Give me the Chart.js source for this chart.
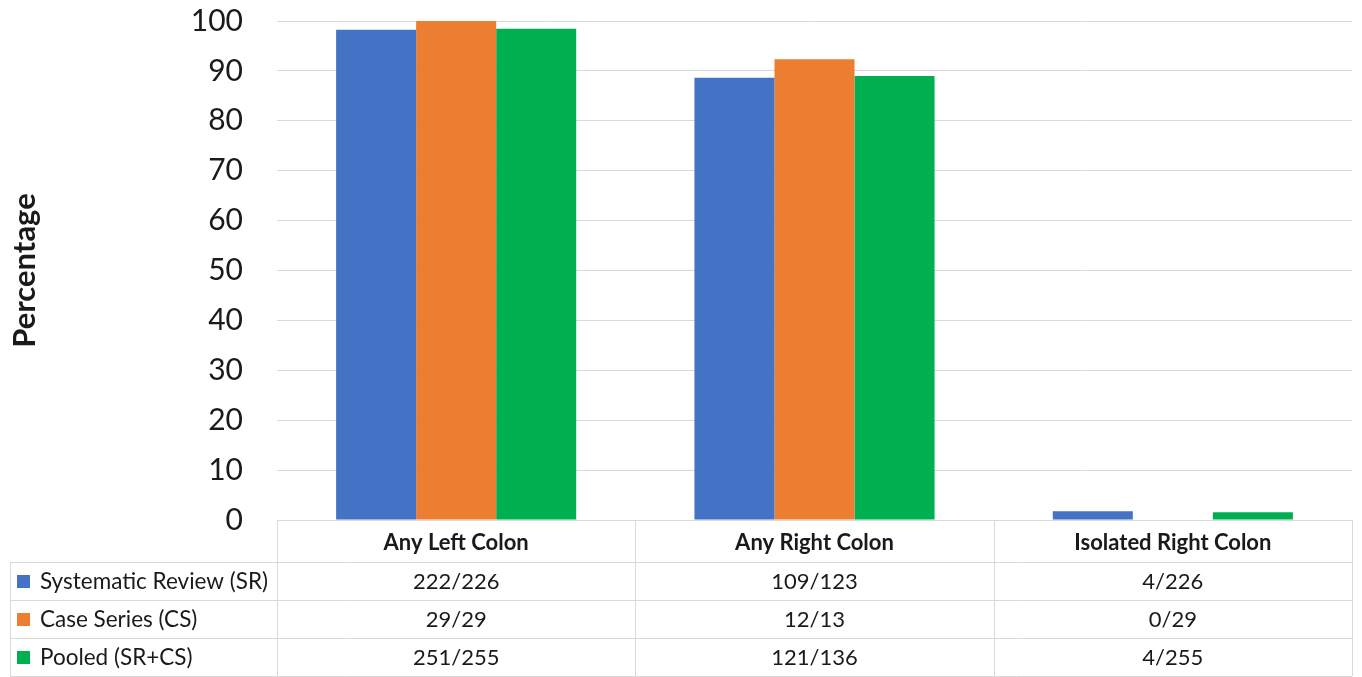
<!DOCTYPE html>
<html>
<head>
<meta charset="utf-8">
<script src="https://cdn.jsdelivr.net/npm/chart.js@4.4.1/dist/chart.umd.min.js"></script>
<style>
  html, body { margin: 0; padding: 0; background: #ffffff; }
  #wrap { width: 1362px; height: 677px; position: relative; }
</style>
</head>
<body>
<div id="wrap"><canvas id="chart" width="1362" height="677"></canvas></div>
<script>
// Site categories (table column headers)
const categories = ['Any Left Colon', 'Any Right Colon', 'Isolated Right Colon'];

// Series names and percentages
const seriesNames = ['Systematic Review (SR)', 'Case Series (CS)', 'Pooled (SR+CS)'];
const srValues = [98.23, 88.62, 1.77];
const csValues = [100, 92.31, 0];
const pooledValues = [98.43, 88.97, 1.57];

// Counts shown in the data table
const srCounts = ['222/226', '109/123', '4/226'];
const csCounts = ['29/29', '12/13', '0/29'];
const pooledCounts = ['251/255', '121/136', '4/255'];

// Y axis ticks
const yTicks = [0, 10, 20, 30, 40, 50, 60, 70, 80, 90, 100];

const colors = ['#4472C4', '#ED7D31', '#00B050'];
const FONT = 'Lato, "Open Sans", sans-serif';
const TEXT = '#1a1a1a';
const LINE = '#d9d9d9';

// Data table drawn under the plot area, aligned with the category scale
const dataTable = {
  id: 'dataTable',
  afterDraw(chart) {
    const ctx = chart.ctx;
    const area = chart.chartArea;
    const x = chart.scales.x;
    const tableLeft = 10;
    const top = area.bottom;
    const headerH = 42;
    const rowH = 38;
    const rows = [srCounts, csCounts, pooledCounts];
    const bottom = top + headerH + rowH * rows.length;

    // column edges from the category scale
    const half = (x.getPixelForValue(1) - x.getPixelForValue(0)) / 2;
    const edges = [];
    for (let i = 0; i < categories.length; i++) edges.push(x.getPixelForValue(i) - half);
    edges.push(x.getPixelForValue(categories.length - 1) + half);

    ctx.save();
    ctx.strokeStyle = LINE;
    ctx.lineWidth = 1;
    ctx.beginPath();
    ctx.moveTo(area.left, top + 0.5);
    ctx.lineTo(area.right, top + 0.5);
    for (let r = 0; r <= rows.length; r++) {
      const y = Math.round(top + headerH + rowH * r) + 0.5;
      ctx.moveTo(tableLeft, y);
      ctx.lineTo(area.right, y);
    }
    edges.forEach(e => {
      ctx.moveTo(Math.round(e) + 0.5, top);
      ctx.lineTo(Math.round(e) + 0.5, bottom);
    });
    ctx.moveTo(tableLeft + 0.5, top + headerH);
    ctx.lineTo(tableLeft + 0.5, bottom);
    ctx.stroke();

    // header labels
    ctx.fillStyle = TEXT;
    ctx.textAlign = 'center';
    ctx.textBaseline = 'middle';
    ctx.font = 'bold 22px ' + FONT;
    categories.forEach((c, i) => {
      ctx.fillText(c, x.getPixelForValue(i), top + headerH / 2 + 2);
    });

    // series rows
    rows.forEach((row, r) => {
      const cy = top + headerH + rowH * r + rowH / 2 + 1;
      ctx.fillStyle = colors[r];
      ctx.fillRect(17, Math.round(cy - 7), 13, 13);
      ctx.fillStyle = TEXT;
      ctx.textAlign = 'left';
      ctx.font = '22.5px ' + FONT;
      ctx.fillText(seriesNames[r], 40, cy);
      ctx.textAlign = 'center';
      ctx.font = '22px ' + FONT;
      row.forEach((v, i) => ctx.fillText(v, x.getPixelForValue(i), cy));
    });
    ctx.restore();
  }
};

new Chart(document.getElementById('chart'), {
  type: 'bar',
  data: {
    labels: categories,
    datasets: [
      { label: seriesNames[0], data: srValues, backgroundColor: colors[0] },
      { label: seriesNames[1], data: csValues, backgroundColor: colors[1] },
      { label: seriesNames[2], data: pooledValues, backgroundColor: colors[2] }
    ]
  },
  options: {
    responsive: false,
    animation: false,
    layout: { padding: { top: 21, right: 10, bottom: 157, left: 0 } },
    datasets: { bar: { categoryPercentage: 0.67, barPercentage: 1.0, borderWidth: 0 } },
    plugins: {
      legend: { display: false },
      tooltip: { enabled: false }
    },
    scales: {
      x: {
        display: false
      },
      y: {
        min: 0,
        max: 100,
        afterBuildTicks(scale) { scale.ticks = yTicks.map(v => ({ value: v })); },
        afterFit(scale) {
          scale.width = 277;
          scale.paddingTop = 0;
          scale.paddingBottom = 0;
        },
        border: { display: false },
        grid: { color: LINE, lineWidth: 1, drawTicks: false },
        ticks: {
          padding: 34,
          color: TEXT,
          font: { family: FONT, size: 30 }
        },
        title: {
          display: true,
          text: 'Percentage',
          color: TEXT,
          font: { family: FONT, size: 31, weight: 'bold' },
          padding: { top: 6, bottom: 0 }
        }
      }
    }
  },
  plugins: [dataTable]
});
</script>
</body>
</html>
